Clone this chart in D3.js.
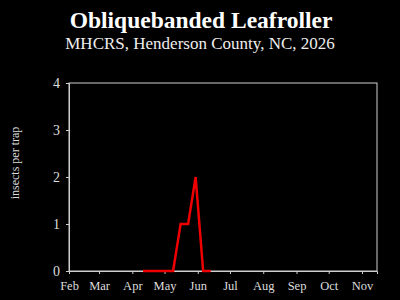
<!DOCTYPE html>
<html>
<head>
<meta charset="utf-8">
<script src="https://cdn.jsdelivr.net/npm/d3@7"></script>
<style>
  body { margin: 0; background: #000; }
  svg { display: block; }
</style>
</head>
<body>
<div id="chart"></div>
<script>
// weekly trap counts, 2026
const dates = ['2026-04-11','2026-04-18','2026-04-25','2026-05-02','2026-05-09',
               '2026-05-16','2026-05-23','2026-05-30','2026-06-06','2026-06-13'];
const counts = [0, 0, 0, 0, 0, 1, 1, 2, 0, 0];
const yTicks = [0, 1, 2, 3, 4];
const monthTicks = ['2026-02-01','2026-03-01','2026-04-01','2026-05-01','2026-06-01',
                    '2026-07-01','2026-08-01','2026-09-01','2026-10-01','2026-11-01'];

const width = 400, height = 300;
const margin = {top: 83, right: 23, bottom: 29, left: 69};
const parse = d3.timeParse('%Y-%m-%d');
const font = '"Liberation Serif", "DejaVu Serif", serif';
const axisCol = '#cfcfcf';

let svg = d3.select('#chart').append('svg')
    .attr('width', width)
    .attr('height', height)
    .style('background', '#000');

let x = d3.scaleTime()
    .domain([parse('2026-02-01'), parse('2026-11-15')])
    .range([margin.left, width - margin.right]);
let y = d3.scaleLinear()
    .domain([0, 4])
    .range([height - margin.bottom, margin.top]);

// titles
svg.append('text')
    .attr('x', 201).attr('y', 28)
    .attr('text-anchor', 'middle')
    .attr('fill', '#fff')
    .style('font-family', font)
    .style('font-weight', 'bold')
    .style('font-size', '23.5px')
    .text('Obliquebanded Leafroller');
svg.append('text')
    .attr('x', 200).attr('y', 49)
    .attr('text-anchor', 'middle')
    .attr('fill', '#eee')
    .style('font-family', font)
    .style('font-size', '17px')
    .text('MHCRS, Henderson County, NC, 2026');

// frame
svg.append('rect')
    .attr('x', margin.left).attr('y', margin.top)
    .attr('width', width - margin.left - margin.right)
    .attr('height', height - margin.top - margin.bottom)
    .attr('fill', 'none')
    .attr('stroke', axisCol)
    .attr('stroke-width', 1);

// axes
let xAxis = svg.append('g')
    .attr('transform', `translate(0,${height - margin.bottom})`)
    .call(d3.axisBottom(x)
        .tickValues(monthTicks.map(parse))
        .tickFormat(d3.timeFormat('%b'))
        .tickSize(3).tickPadding(7));
let yAxis = svg.append('g')
    .attr('transform', `translate(${margin.left},0)`)
    .call(d3.axisLeft(y)
        .tickValues(yTicks)
        .tickFormat(d3.format('d'))
        .tickSize(3).tickPadding(6));

[xAxis, yAxis].forEach(g => {
    g.select('.domain').attr('stroke', axisCol);
    g.selectAll('.tick line').attr('stroke', axisCol);
    g.selectAll('.tick text')
        .attr('fill', '#ddd')
        .style('font-family', font);
});
xAxis.selectAll('.tick text').style('font-size', '12.5px');
yAxis.selectAll('.tick text').style('font-size', '14px');

svg.append('text')
    .attr('transform', 'translate(19,163) rotate(-90)')
    .attr('text-anchor', 'middle')
    .attr('fill', '#ddd')
    .style('font-family', font)
    .style('font-size', '12px')
    .text('insects per trap');

// series
let line = d3.line()
    .x((d, i) => x(parse(dates[i])))
    .y(d => y(d));
svg.append('path')
    .datum(counts)
    .attr('d', line)
    .attr('fill', 'none')
    .attr('stroke', '#ee0000')
    .attr('stroke-width', 2.5)
    .attr('stroke-linejoin', 'miter');
</script>
</body>
</html>
